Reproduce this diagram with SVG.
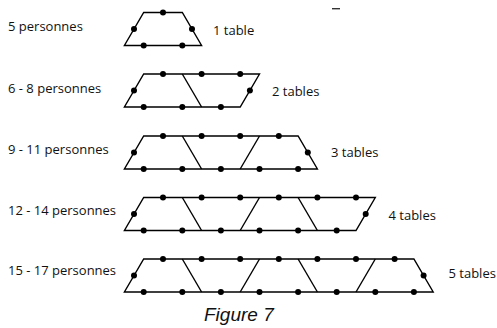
<svg xmlns="http://www.w3.org/2000/svg" width="497" height="328" viewBox="0 0 497 328">
<style>
.t{fill:none;stroke:#000;stroke-width:1.4;stroke-linejoin:miter}
.d{fill:#000}
.lbl{font-family:"Open Sans","Liberation Sans",sans-serif;font-size:13px;fill:#111}
.fig{font-family:"Liberation Sans",Arial,sans-serif;font-style:italic;font-size:19px;fill:#111}
</style>
<defs><circle id="dot" r="3" class="d"/></defs>
<rect width="497" height="328" fill="#fff"/>
<line x1="332" y1="8.7" x2="340" y2="8.7" stroke="#333" stroke-width="1.4"/>

<g id="row1">
<polygon class="t" points="143.7,12.5 182.3,12.5 201.6,45.5 124.4,45.5"/>
<use href="#dot" x="163" y="12.5"/>
<use href="#dot" x="143.7" y="45.5"/><use href="#dot" x="182.3" y="45.5"/>
<use href="#dot" x="134" y="29"/><use href="#dot" x="192" y="29"/>
<text class="lbl" x="8" y="31">5 personnes</text>
<text class="lbl" x="213" y="35">1 table</text>
</g>

<g id="row2">
<polygon class="t" points="143.7,74 259.5,74 240.2,107 124.4,107"/>
<line class="t" x1="182.3" y1="74" x2="201.6" y2="107"/>
<use href="#dot" x="163" y="74"/><use href="#dot" x="201.6" y="74"/><use href="#dot" x="240.2" y="74"/>
<use href="#dot" x="143.7" y="107"/><use href="#dot" x="182.3" y="107"/><use href="#dot" x="220.9" y="107"/>
<use href="#dot" x="134" y="90.5"/><use href="#dot" x="249.9" y="90.5"/>
<text class="lbl" x="8" y="93">6 - 8 personnes</text>
<text class="lbl" x="272" y="96">2 tables</text>
</g>

<g id="row3">
<polygon class="t" points="143.7,136 298.1,136 317.4,169 124.4,169"/>
<line class="t" x1="182.3" y1="136" x2="201.6" y2="169"/>
<line class="t" x1="259.5" y1="136" x2="240.2" y2="169"/>
<use href="#dot" x="163" y="136"/><use href="#dot" x="201.6" y="136"/><use href="#dot" x="240.2" y="136"/><use href="#dot" x="278.8" y="136"/>
<use href="#dot" x="143.7" y="169"/><use href="#dot" x="182.3" y="169"/><use href="#dot" x="220.9" y="169"/><use href="#dot" x="259.5" y="169"/><use href="#dot" x="298.1" y="169"/>
<use href="#dot" x="134" y="152.5"/><use href="#dot" x="307.8" y="152.5"/>
<text class="lbl" x="8" y="154">9 - 11 personnes</text>
<text class="lbl" x="331" y="157">3 tables</text>
</g>

<g id="row4">
<polygon class="t" points="143.7,197.5 375.3,197.5 356,230.5 124.4,230.5"/>
<line class="t" x1="182.3" y1="197.5" x2="201.6" y2="230.5"/>
<line class="t" x1="259.5" y1="197.5" x2="240.2" y2="230.5"/>
<line class="t" x1="298.1" y1="197.5" x2="317.4" y2="230.5"/>
<use href="#dot" x="163" y="197.5"/><use href="#dot" x="201.6" y="197.5"/><use href="#dot" x="240.2" y="197.5"/><use href="#dot" x="278.8" y="197.5"/><use href="#dot" x="317.4" y="197.5"/><use href="#dot" x="356" y="197.5"/>
<use href="#dot" x="143.7" y="230.5"/><use href="#dot" x="182.3" y="230.5"/><use href="#dot" x="220.9" y="230.5"/><use href="#dot" x="259.5" y="230.5"/><use href="#dot" x="298.1" y="230.5"/><use href="#dot" x="336.7" y="230.5"/>
<use href="#dot" x="134" y="214"/><use href="#dot" x="365.7" y="214"/>
<text class="lbl" x="8" y="214.5">12 - 14 personnes</text>
<text class="lbl" x="388.5" y="219.5">4 tables</text>
</g>

<g id="row5">
<polygon class="t" points="143.7,259 413.9,259 433.2,292 124.4,292"/>
<line class="t" x1="182.3" y1="259" x2="201.6" y2="292"/>
<line class="t" x1="259.5" y1="259" x2="240.2" y2="292"/>
<line class="t" x1="298.1" y1="259" x2="317.4" y2="292"/>
<line class="t" x1="375.3" y1="259" x2="356" y2="292"/>
<use href="#dot" x="163" y="259"/><use href="#dot" x="201.6" y="259"/><use href="#dot" x="240.2" y="259"/><use href="#dot" x="278.8" y="259"/><use href="#dot" x="317.4" y="259"/><use href="#dot" x="356" y="259"/><use href="#dot" x="394.6" y="259"/>
<use href="#dot" x="143.7" y="292"/><use href="#dot" x="182.3" y="292"/><use href="#dot" x="220.9" y="292"/><use href="#dot" x="259.5" y="292"/><use href="#dot" x="298.1" y="292"/><use href="#dot" x="336.7" y="292"/><use href="#dot" x="375.3" y="292"/><use href="#dot" x="413.9" y="292"/>
<use href="#dot" x="134" y="275.5"/><use href="#dot" x="423.6" y="275.5"/>
<text class="lbl" x="8" y="275">15 - 17 personnes</text>
<text class="lbl" x="448.5" y="278">5 tables</text>
</g>

<g id="connectors"></g>

<text class="fig" x="204" y="321">Figure 7</text>
</svg>
